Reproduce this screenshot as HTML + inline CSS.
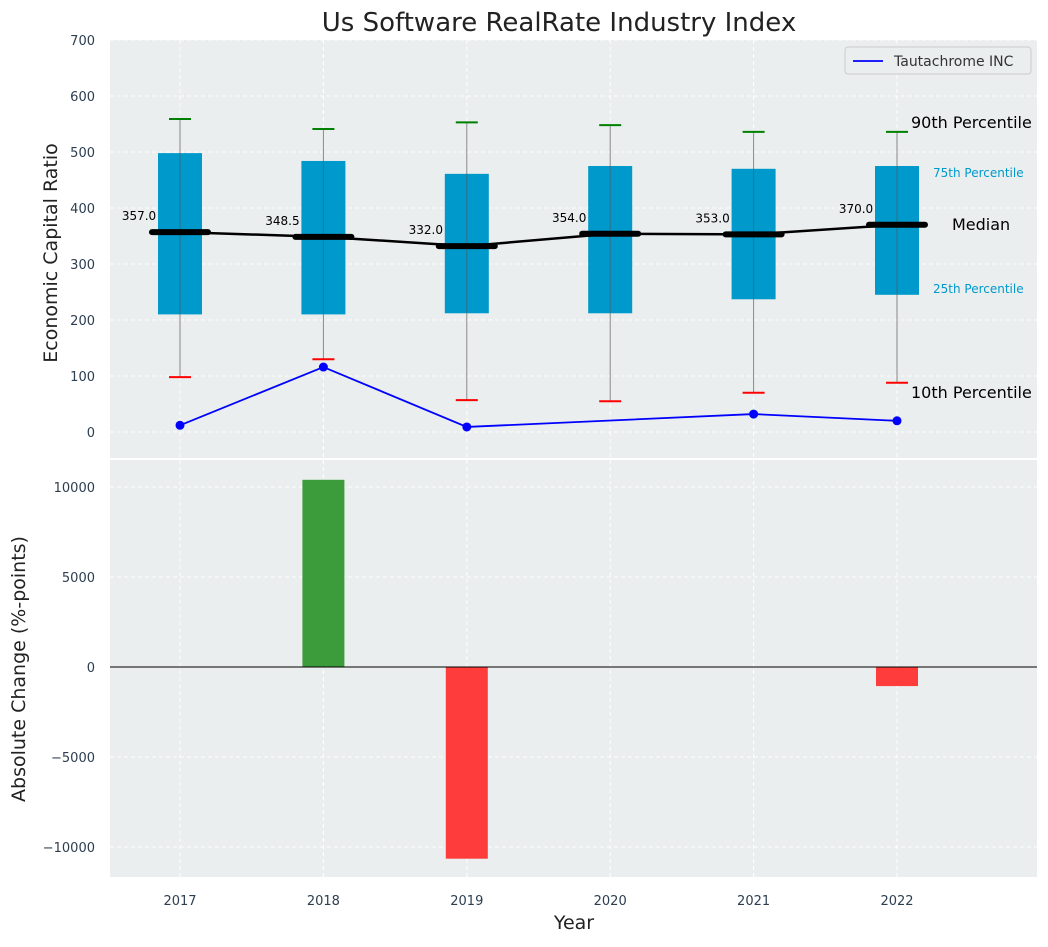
<!DOCTYPE html>
<html><head><meta charset="utf-8"><style>
body{margin:0;background:#fff;}
svg{font-family:"DejaVu Sans","Liberation Sans",sans-serif;}
</style></head><body>
<svg id="c" width="1048" height="942"></svg>
<script>
const years=[2017,2018,2019,2020,2021,2022];
const q1=[210,210,212,212,237,245];
const q3=[498,484,461,475,470,475];
const p10=[98,130,57,55,70,88];
const p90=[559,541,553,548,536,536];
const medians=[357.0,348.5,332.0,354.0,353.0,370.0];
const lineYears=[2017,2018,2019,2021,2022];
const lineVals=[12,116,9,32,20];
const changeYears=[2018,2019,2022];
const changeVals=[10400,-10650,-1060];
const topTicks=[0,100,200,300,400,500,600,700];
const botTicks=[-10000,-5000,0,5000,10000];

const NS="http://www.w3.org/2000/svg";
const svg=document.getElementById('c');
function el(t,a,p){const e=document.createElementNS(NS,t);for(const k in a)e.setAttribute(k,a[k]);(p||svg).appendChild(e);return e;}
const L=110,R=1037;
const x=v=>180+(v-2017)*143.4;
const yT=v=>432-v*0.56;
const yB=v=>667-v*0.018;

let bg=el('rect',{x:L,y:40,width:R-L,height:418,fill:'#eaeeee'});

let bg2=el('rect',{x:L,y:460,width:R-L,height:417,fill:'#eaeeee'});


topTicks.forEach(t=>{
 el('line',{x1:L,x2:R,y1:yT(t),y2:yT(t),stroke:'#fff','stroke-dasharray':'4,3'});
 const tx=el('text',{x:95,y:yT(t)+5,'text-anchor':'end','font-size':13,fill:'#2c3e50'});tx.textContent=t;
 
});
botTicks.forEach(t=>{
 el('line',{x1:L,x2:R,y1:yB(t),y2:yB(t),stroke:'#fff','stroke-dasharray':'4,3'});
 const tx=el('text',{x:95,y:yB(t)+5,'text-anchor':'end','font-size':13,fill:'#2c3e50'});tx.textContent=t<0?'\u2212'+(-t):t;
 
});
years.forEach(yr=>{
 el('line',{x1:x(yr),x2:x(yr),y1:40,y2:458,stroke:'#fff','stroke-dasharray':'4,3'});
 el('line',{x1:x(yr),x2:x(yr),y1:460,y2:877,stroke:'#fff','stroke-dasharray':'4,3'});
 const tx=el('text',{x:x(yr),y:905,'text-anchor':'middle','font-size':13,fill:'#2c3e50'});tx.textContent=yr;
 
});

years.forEach((yr,i)=>{
 const cx=x(yr);
 const w=el('line',{x1:cx,x2:cx,y1:yT(p90[i]),y2:yT(p10[i]),stroke:'#888','stroke-width':1});
 
 const b=el('rect',{x:cx-22,y:yT(q3[i]),width:44,height:yT(q1[i])-yT(q3[i]),fill:'#0099cc'});
 
 el('line',{x1:cx,x2:cx,y1:yT(q3[i]),y2:yT(q1[i]),stroke:'#555','stroke-width':1,opacity:0.6});
 const c1=el('line',{x1:cx-11,x2:cx+11,y1:yT(p90[i]),y2:yT(p90[i]),stroke:'green','stroke-width':2});
 
 const c2=el('line',{x1:cx-11,x2:cx+11,y1:yT(p10[i]),y2:yT(p10[i]),stroke:'red','stroke-width':2});
 
});
const mp=el('polyline',{points:years.map((yr,i)=>x(yr)+','+yT(medians[i])).join(' '),fill:'none',stroke:'#000','stroke-width':2.5});

years.forEach((yr,i)=>{
 const m=el('line',{x1:x(yr)-28,x2:x(yr)+28,y1:yT(medians[i]),y2:yT(medians[i]),stroke:'#000','stroke-width':6,'stroke-linecap':'round'});
 
 const t=el('text',{x:x(yr)-41,y:yT(medians[i])-12,'text-anchor':'middle','font-size':12,fill:'#000'});t.textContent=medians[i].toFixed(1);
 
});
const bl=el('polyline',{points:lineYears.map((yr,i)=>x(yr)+','+yT(lineVals[i])).join(' '),fill:'none',stroke:'#0000ff','stroke-width':1.8});

lineYears.forEach((yr,i)=>{
 const p=el('circle',{cx:x(yr),cy:yT(lineVals[i]),r:4.5,fill:'#0000ff'});
 
});
[[911,128,'90th Percentile',16,'#000'],[933,177,'75th Percentile',12,'#0099cc'],[952,230,'Median',16,'#000'],[933,293,'25th Percentile',12,'#0099cc'],[911,398,'10th Percentile',16,'#000']].forEach(a=>{
 const t=el('text',{x:a[0],y:a[1],'font-size':a[3],fill:a[4]});t.textContent=a[2];
 
});
const lg=el('g',{});
el('rect',{x:845,y:47,width:186,height:27,rx:3,fill:'#eaeeee',stroke:'#ccc'},lg);
el('line',{x1:853,x2:883,y1:61,y2:61,stroke:'#0000ff','stroke-width':1.8},lg);
const lt=el('text',{x:894,y:66,'font-size':14,fill:'#333'},lg);lt.textContent='Tautachrome INC';

changeYears.forEach((yr,i)=>{
 const v=changeVals[i];
 const b=el('rect',{x:x(yr)-21,y:Math.min(yB(v),yB(0)),width:42,height:Math.abs(yB(v)-yB(0)),fill:v>=0?'#3c9c3c':'#ff3c3c'});
 
});
el('line',{x1:L,x2:R,y1:yB(0),y2:yB(0),stroke:'#000','stroke-width':1});

const tt=el('text',{x:559,y:31,'text-anchor':'middle','font-size':26,fill:'#222'});tt.textContent='Us Software RealRate Industry Index';

const ya=el('text',{x:57,y:253,'text-anchor':'middle','font-size':19,fill:'#222',transform:'rotate(-90 57 253)'});ya.textContent='Economic Capital Ratio';

const yb=el('text',{x:25,y:669,'text-anchor':'middle','font-size':19,fill:'#222',transform:'rotate(-90 25 669)'});yb.textContent='Absolute Change (%-points)';

const xa=el('text',{x:574,y:929,'text-anchor':'middle','font-size':19,fill:'#222'});xa.textContent='Year';

</script>
</body></html>
